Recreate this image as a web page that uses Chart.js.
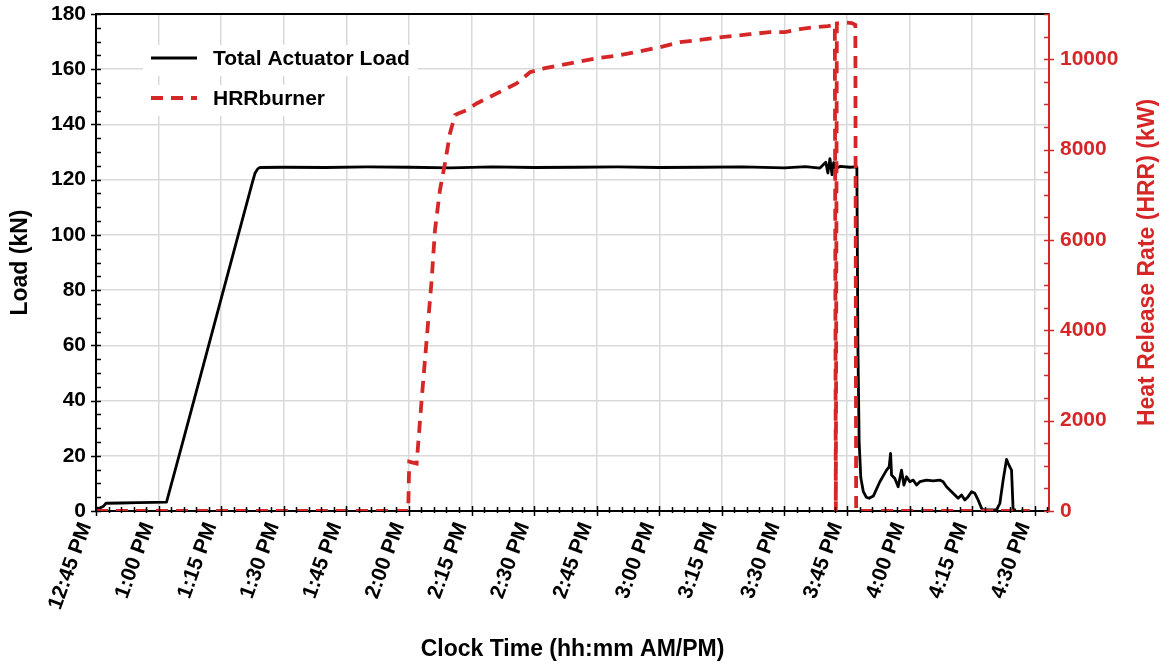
<!DOCTYPE html>
<html>
<head>
<meta charset="utf-8">
<script src="https://cdn.jsdelivr.net/npm/chart.js@4/dist/chart.umd.min.js"></script>
<style>
  html, body { margin: 0; padding: 0; background: #ffffff; }
  #wrap { width: 1164px; height: 663px; }
</style>
</head>
<body>
<div id="wrap"><canvas id="c" width="1164" height="663"></canvas></div>
<script>
// Time is stored as minutes after 12:45 PM.
const timeTickLabels = ['12:45 PM', '1:00 PM', '1:15 PM', '1:30 PM', '1:45 PM', '2:00 PM', '2:15 PM',
  '2:30 PM', '2:45 PM', '3:00 PM', '3:15 PM', '3:30 PM', '3:45 PM', '4:00 PM', '4:15 PM', '4:30 PM'];

// Total actuator load (kN)
const loadTime = [0, 0.8, 1.7, 2.4, 6, 10, 14, 16.9, 20.9, 25, 30, 35, 37.4, 38.1, 38.8, 39.3,
  45, 55, 65, 75, 85, 95, 105, 115, 125, 135, 145, 155, 165, 170, 173.5, 174.9, 175.4, 175.9,
  176.4, 176.8, 177.3, 178.3, 180.7, 181.9, 182.35, 182.6, 182.9, 183.3, 183.9, 184.6, 185.3,
  186.3, 187.86, 189.47, 190.09, 190.43, 190.67, 191.46, 192.25, 193.06, 193.62, 194.26,
  195.05, 195.84, 196.66, 197.45, 199.05, 200.63, 202.24, 203.03, 203.84, 205.04, 205.83,
  206.62, 207.44, 208.23, 209.02, 209.83, 210.62, 211.41, 212.23, 212.61, 215.82, 216.62,
  217.41, 218.22, 218.6, 219.01, 219.42, 219.8, 220.45];
const loadKN = [0.8, 1.0, 1.6, 2.8, 2.9, 3.0, 3.1, 3.2, 25.6, 48.7, 76.9, 105.1, 118.6, 122.3, 124.0, 124.4,
  124.5, 124.4, 124.6, 124.5, 124.3, 124.6, 124.4, 124.5, 124.6, 124.4, 124.5, 124.6, 124.3, 124.7, 124.2, 126.3, 122.4, 127.6,
  121.8, 126.2, 124.0, 124.8, 124.5, 124.6, 124.5, 60, 25, 12, 7, 5, 4.6,
  5.4, 10.6, 14.8, 16, 20.9, 13, 11.8, 8.8, 14.8, 9.4, 12.4,
  10.6, 11.2, 9.4, 10.6, 11.2, 10.9, 11.2, 10.6, 8.8, 7.0, 5.8,
  4.6, 5.8, 4.0, 5.2, 7.0, 6.4, 4.0, 1.0, 0.4, 0.4, 2.8,
  11.2, 18.7, 17.3, 16, 14.8, 0.6, 0.3];

// Burner heat release rate (kW)
const hrrTime = [0, 74.83, 75.07, 75.48, 76.85, 78.04, 78.83, 79.55, 80.44, 81.24, 82.43, 83.63,
  84.83, 86.03, 86.82, 88.83, 91.22, 94.41, 97.6, 100.81, 104.0, 107.59, 111.18, 120.05,
  125.56, 135.14, 139.94, 150.0, 156.71, 161.5, 165.09, 168.69, 172.28, 175.39, 177.07,
  177.31, 177.55, 179.47, 181.15, 181.99, 182.18, 223.8];
const hrrKW = [0, 0, 1090, 1080, 1050, 2456, 3330, 4130, 5110, 6217, 7102, 7692,
  8356, 8761, 8799, 8872, 9020, 9166, 9314, 9462, 9712, 9801, 9867, 10022,
  10088, 10265, 10376, 10487, 10553, 10597, 10597, 10664, 10708, 10730, 10760,
  0, 10790, 10810, 10800, 10760, 0, 0];

const RED = '#d62728';
const GRID = '#d9d9d9';
const FAMILY = "'Liberation Sans', Arial, Helvetica, sans-serif";
const tickFont = { family: FAMILY, size: 21, weight: 'bold' };
const titleFont = { family: FAMILY, size: 23, weight: 'bold', lineHeight: 1 };

const isMult = (v, m) => Math.abs(v / m - Math.round(v / m)) < 1e-6;
const toPoints = (xs, ys) => xs.map((x, i) => ({ x: x, y: ys[i] }));

// Axis frame, tick marks, right-hand title and the legend box
const decorations = {
  id: 'decorations',
  afterDraw(chart) {
    const { ctx, chartArea: a, scales } = chart;
    ctx.save();
    ctx.lineCap = 'butt';

    // top frame line
    ctx.strokeStyle = '#000';
    ctx.lineWidth = 2;
    ctx.beginPath();
    ctx.moveTo(a.left - 1, a.top);
    ctx.lineTo(a.right, a.top);
    ctx.stroke();

    ctx.lineWidth = 1.5;
    // bottom axis ticks
    ctx.strokeStyle = '#000';
    ctx.beginPath();
    scales.x.ticks.forEach(t => {
      const px = Math.round(scales.x.getPixelForValue(t.value)) + 0.5;
      const major = isMult(t.value, 15);
      ctx.moveTo(px, a.bottom - (major ? 5 : 4));
      ctx.lineTo(px, a.bottom + (major ? 5 : 2));
    });
    ctx.stroke();
    // left axis ticks
    ctx.beginPath();
    scales.y.ticks.forEach(t => {
      const py = Math.round(scales.y.getPixelForValue(t.value)) + 0.5;
      const major = isMult(t.value, 20);
      ctx.moveTo(a.left - (major ? 5 : 0), py);
      ctx.lineTo(a.left + 5, py);
    });
    ctx.stroke();
    // right axis ticks
    ctx.strokeStyle = RED;
    ctx.beginPath();
    scales.y1.ticks.forEach(t => {
      const py = Math.round(scales.y1.getPixelForValue(t.value)) + 0.5;
      const major = isMult(t.value, 2000);
      ctx.moveTo(a.right - 5, py);
      ctx.lineTo(a.right + (major ? 5 : 0), py);
    });
    ctx.stroke();

    // right axis title, reading bottom to top
    ctx.fillStyle = RED;
    ctx.font = `bold ${titleFont.size}px ${FAMILY}`;
    ctx.textAlign = 'center';
    ctx.textBaseline = 'middle';
    ctx.translate(1148, (a.top + a.bottom) / 2);
    ctx.rotate(-Math.PI / 2);
    ctx.fillText('Heat Release Rate (HRR) (kW)', 0, 0);
    ctx.setTransform(1, 0, 0, 1, 0, 0);

    // legend
    ctx.font = `bold ${tickFont.size}px ${FAMILY}`;
    ctx.textAlign = 'left';
    chart.data.datasets.forEach((ds, i) => {
      const cy = a.top + 44 + i * 40;
      const boxX = a.left + 47;
      const textX = a.left + 117;
      const w = ctx.measureText(ds.label).width;
      ctx.fillStyle = '#ffffff';
      ctx.fillRect(boxX, cy - 13, textX + w + 8 - boxX, 31);
      ctx.strokeStyle = ds.borderColor;
      ctx.lineWidth = ds.borderWidth;
      ctx.setLineDash(ds.borderDash || []);
      ctx.beginPath();
      ctx.moveTo(a.left + 55, cy);
      ctx.lineTo(a.left + 101, cy);
      ctx.stroke();
      ctx.setLineDash([]);
      ctx.fillStyle = '#000';
      ctx.fillText(ds.label, textX, cy + 1);
    });
    ctx.restore();
  }
};

// Fixed axis boxes so the plot area sits at the same place every time
const fitVertical = width => s => { s.width = width; s.paddingTop = 0; s.paddingBottom = 0; };
const fitHorizontal = height => s => { s.height = height; s.paddingLeft = 0; s.paddingRight = 0; };

new Chart(document.getElementById('c'), {
  type: 'line',
  data: {
    datasets: [
      {
        label: 'Total Actuator Load',
        data: toPoints(loadTime, loadKN),
        borderColor: '#000000',
        borderWidth: 2.8,
        borderJoinStyle: 'round',
        pointRadius: 0,
        tension: 0,
        fill: false,
        yAxisID: 'y',
        order: 2
      },
      {
        label: 'HRRburner',
        data: toPoints(hrrTime, hrrKW),
        borderColor: RED,
        borderWidth: 3.8,
        borderDash: [12, 8],
        pointRadius: 0,
        tension: 0,
        fill: false,
        yAxisID: 'y1',
        order: 1
      }
    ]
  },
  options: {
    responsive: false,
    animation: false,
    devicePixelRatio: 1,
    layout: { padding: { top: 14, left: 0, right: 0, bottom: 0 } },
    plugins: { legend: { display: false }, tooltip: { enabled: false } },
    scales: {
      x: {
        type: 'linear',
        min: 0,
        max: 228.4,
        bounds: 'data',
        afterFit: fitHorizontal(152),
        ticks: {
          stepSize: 3,
          autoSkip: false,
          includeBounds: false,
          minRotation: 70,
          maxRotation: 70,
          padding: 8,
          labelOffset: -10,
          color: '#000',
          font: tickFont,
          callback: v => isMult(v, 15) ? timeTickLabels[Math.round(v / 15)] : ''
        },
        grid: {
          color: c => (c.tick && isMult(c.tick.value, 15)) ? GRID : 'rgba(0,0,0,0)',
          lineWidth: 1.5,
          drawTicks: false
        },
        border: { color: '#000', width: 2 },
        title: {
          display: true,
          text: 'Clock Time (hh:mm AM/PM)',
          color: '#000',
          font: titleFont,
          padding: { top: 0, bottom: 2 }
        }
      },
      y: {
        type: 'linear',
        position: 'left',
        min: 0,
        max: 180,
        afterFit: fitVertical(96),
        ticks: {
          stepSize: 5,
          autoSkip: false,
          padding: 10,
          color: '#000',
          font: tickFont,
          callback: v => isMult(v, 20) ? String(v) : ''
        },
        grid: {
          color: c => (c.tick && isMult(c.tick.value, 20)) ? GRID : 'rgba(0,0,0,0)',
          lineWidth: 1.5,
          drawTicks: false
        },
        border: { color: '#000', width: 2 },
        title: {
          display: true,
          text: 'Load (kN)',
          color: '#000',
          font: titleFont,
          padding: { top: 9, bottom: 0 }
        }
      },
      y1: {
        type: 'linear',
        position: 'right',
        min: 0,
        max: 11000,
        afterFit: fitVertical(115),
        ticks: {
          stepSize: 500,
          autoSkip: false,
          padding: 11,
          color: RED,
          font: tickFont,
          callback: v => isMult(v, 2000) ? String(v) : ''
        },
        grid: { drawOnChartArea: false, drawTicks: false },
        border: { color: RED, width: 2 },
        title: { display: false }
      }
    }
  },
  plugins: [decorations]
});
</script>
</body>
</html>
